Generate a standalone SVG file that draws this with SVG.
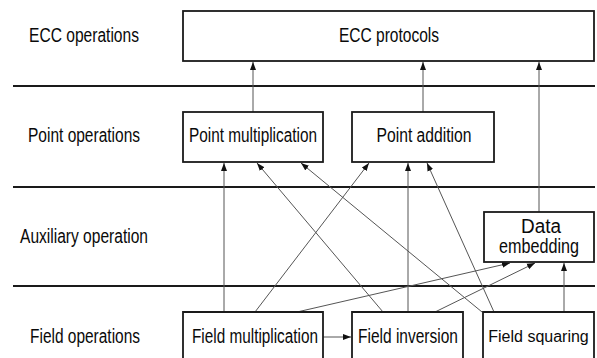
<svg xmlns="http://www.w3.org/2000/svg" width="597" height="358" viewBox="0 0 597 358">
<style>
  .bg { fill: #ffffff; }
  .sep { stroke: #1a1a1a; stroke-width: 2.2; fill: none; }
  .box { fill: #ffffff; stroke: #1a1a1a; stroke-width: 1.8; }
  .lbl { font-family: "Liberation Sans", Arial, sans-serif; font-size: 19.5px; fill: #0a0a0a; text-anchor: middle; }
  .conn { stroke: #555555; stroke-width: 1; fill: none; marker-end: url(#arr); }
</style>
<defs>
  <marker id="arr" markerUnits="userSpaceOnUse" markerWidth="9" markerHeight="7" refX="8" refY="3.5" orient="auto">
    <path d="M0,0.5 L8,3.5 L0,6.5 Z" fill="#111111"/>
  </marker>
</defs>
<rect class="bg" x="0" y="0" width="597" height="358"/>

<g id="layers">
  <line class="sep" x1="13" y1="86" x2="595" y2="86"/>
  <line class="sep" x1="13" y1="187" x2="595" y2="187"/>
  <line class="sep" x1="13" y1="286" x2="595" y2="286"/>
  <text class="lbl" x="84" y="42" textLength="110" lengthAdjust="spacingAndGlyphs">ECC operations</text>
  <text class="lbl" x="84" y="142" textLength="112" lengthAdjust="spacingAndGlyphs">Point operations</text>
  <text class="lbl" x="84" y="243" textLength="128" lengthAdjust="spacingAndGlyphs">Auxiliary operation</text>
  <text class="lbl" x="85" y="343" textLength="110" lengthAdjust="spacingAndGlyphs">Field operations</text>
</g>

<g id="connectors">
  <line class="conn" x1="253" y1="112" x2="253" y2="62"/>
  <line class="conn" x1="423" y1="112" x2="423" y2="62"/>
  <line class="conn" x1="539" y1="212" x2="539" y2="62"/>
  <line class="conn" x1="224" y1="312" x2="224" y2="163"/>
  <line class="conn" x1="255" y1="312" x2="369" y2="163"/>
  <line class="conn" x1="383" y1="312" x2="257" y2="163"/>
  <line class="conn" x1="482" y1="312" x2="301" y2="163"/>
  <line class="conn" x1="408" y1="312" x2="408" y2="163"/>
  <line class="conn" x1="494" y1="312" x2="427" y2="163"/>
  <line class="conn" x1="297" y1="312" x2="510" y2="263"/>
  <line class="conn" x1="435" y1="312" x2="535" y2="263"/>
  <line class="conn" x1="564" y1="312" x2="564" y2="263"/>
  <line class="conn" x1="323" y1="337" x2="351" y2="337"/>
</g>

<g id="ecc-protocols">
  <rect class="box" x="183" y="11" width="411" height="50"/>
  <text class="lbl" x="389" y="42" textLength="100" lengthAdjust="spacingAndGlyphs">ECC protocols</text>
</g>
<g id="point-multiplication">
  <rect class="box" x="183" y="112" width="140" height="50"/>
  <text class="lbl" x="253" y="142" textLength="128" lengthAdjust="spacingAndGlyphs">Point multiplication</text>
</g>
<g id="point-addition">
  <rect class="box" x="352" y="112" width="142" height="50"/>
  <text class="lbl" x="424" y="142" textLength="95" lengthAdjust="spacingAndGlyphs">Point addition</text>
</g>
<g id="data-embedding">
  <rect class="box" x="484" y="212" width="110" height="50"/>
  <text class="lbl" x="541" y="233" textLength="40" lengthAdjust="spacingAndGlyphs">Data</text>
  <text class="lbl" x="539" y="253" textLength="80" lengthAdjust="spacingAndGlyphs">embedding</text>
</g>
<g id="field-multiplication">
  <path class="box" d="M183,358 V312 H323 V358"/>
  <text class="lbl" x="255" y="343" textLength="126" lengthAdjust="spacingAndGlyphs">Field multiplication</text>
</g>
<g id="field-inversion">
  <path class="box" d="M352,358 V312 H463 V358"/>
  <text class="lbl" x="408" y="343" textLength="100" lengthAdjust="spacingAndGlyphs">Field inversion</text>
</g>
<g id="field-squaring">
  <path class="box" d="M483,358 V312 H594 V358"/>
  <text class="lbl" x="538.5" y="342" style="font-size:16px">Field squaring</text>
</g>
</svg>
